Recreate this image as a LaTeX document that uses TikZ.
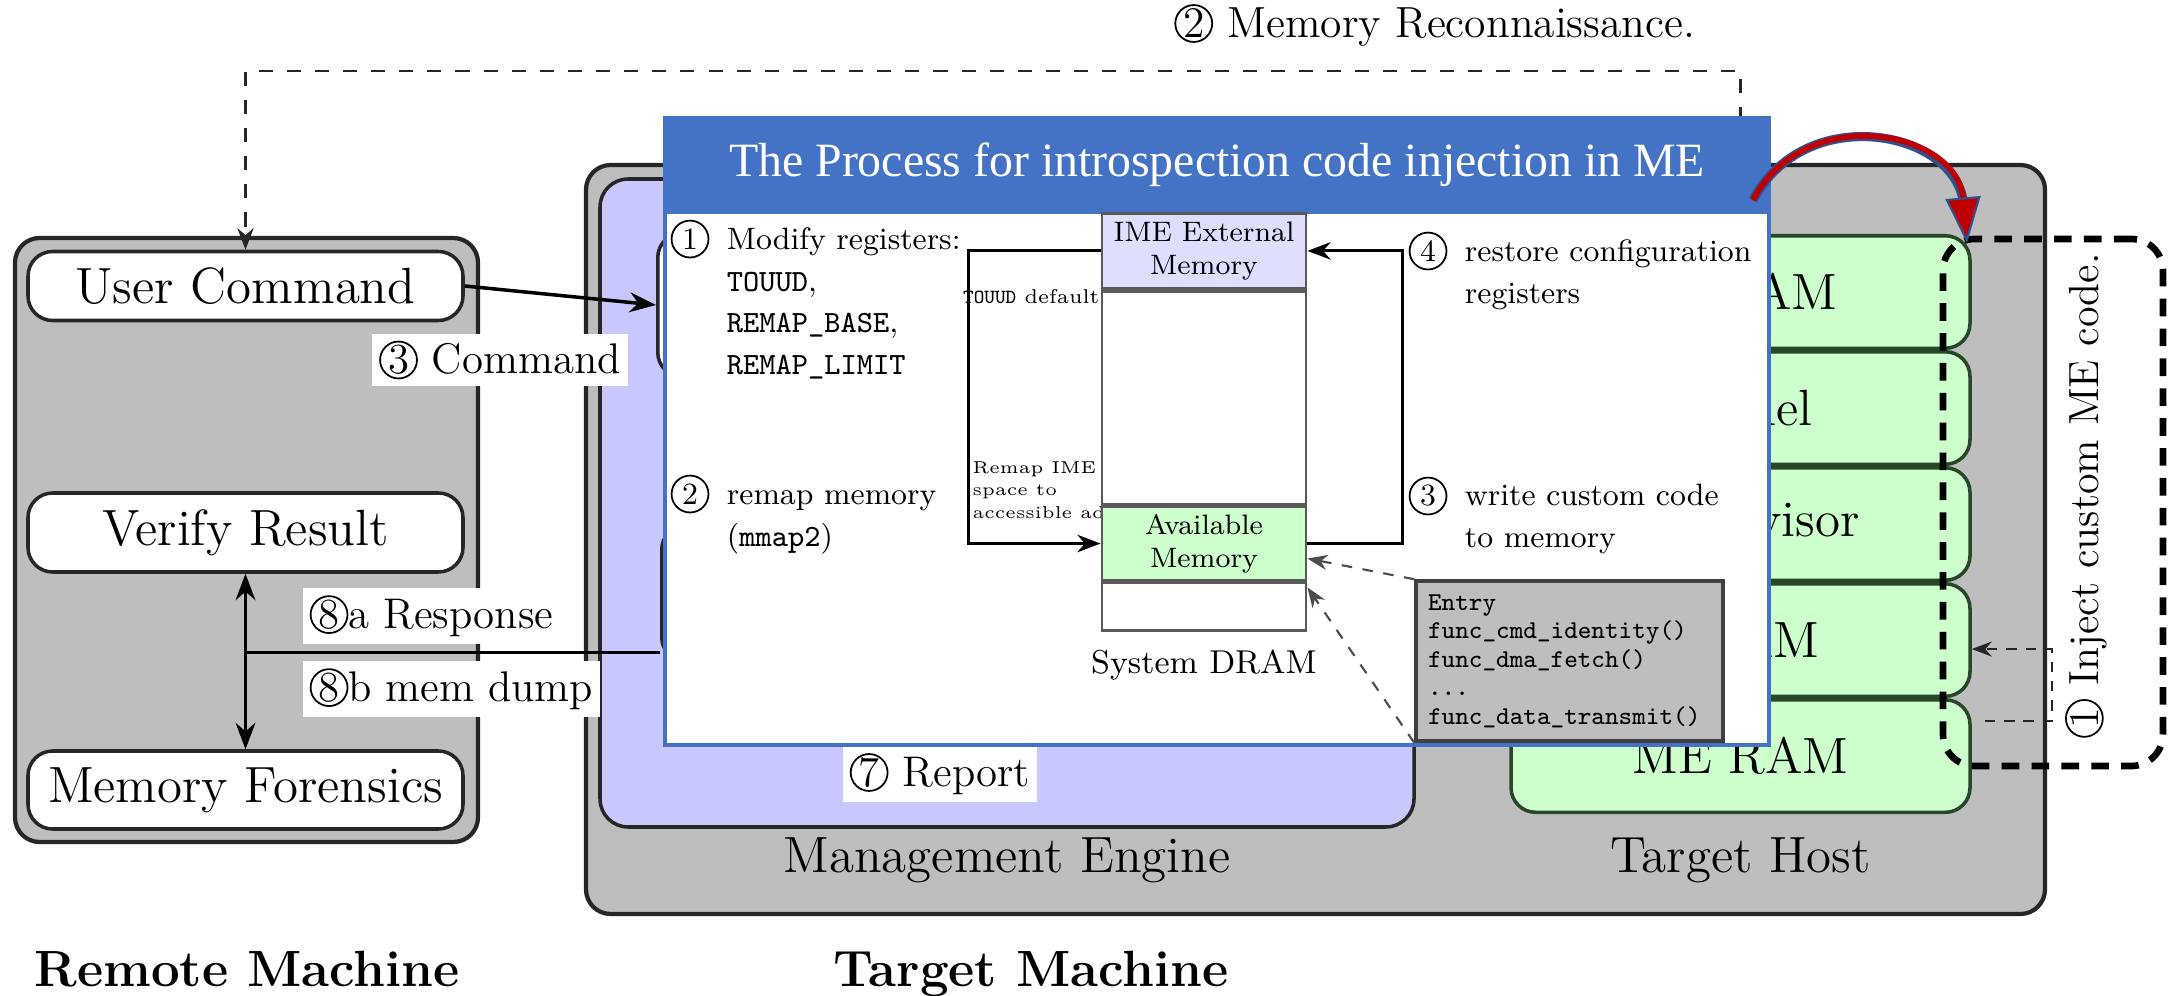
\documentclass[tikz,border=0pt]{standalone}
\usepackage{graphicx}
\usepackage{fontspec}
\newfontfamily\titlefont{Liberation Serif}
\usepackage{xcolor}
\usepackage{tikz}
\usetikzlibrary{
    positioning,
    arrows.meta,
    calc
}
\definecolor{slidebar}{HTML}{4472C4}
\definecolor{arcred}{HTML}{C00000}
\definecolor{arcblue}{HTML}{2F528F}
\definecolor{hostgreen}{RGB}{204,255,204}
\definecolor{hostedge}{RGB}{40,70,40}
\definecolor{meviolet}{RGB}{200,200,255}
\definecolor{imeviolet}{RGB}{222,222,255}
\definecolor{boxgray}{RGB}{190,190,190}

\newcommand{\cnum}[1]{\tikz[baseline=(cn.base)]\node[circle, draw=black, fill=none, text=black,
    line width=0.5pt, inner sep=0pt, minimum size=10.5pt, anchor=center] (cn) {#1};}

\tikzset{
    machine/.style={
        draw=black!85, line width=1.2pt, fill=boxgray, rounded corners=7pt
    },
    engine/.style={
        draw=black!85, line width=1pt, fill=meviolet, rounded corners=8pt
    },
    cmdbox/.style={
        draw=black!85, line width=1pt, fill=white, rounded corners=7pt,
        minimum width=4.35cm, font=\fontsize{14.5}{17}\selectfont
    },
    hostmem/.style={
        draw=hostedge, line width=1pt, fill=hostgreen, rounded corners=7pt,
        minimum width=4.59cm, minimum height=1.125cm, font=\fontsize{14.5}{17}\selectfont
    },
    boxtitle/.style={
        font=\fontsize{14.5}{17}\selectfont
    },
    machinetitle/.style={
        font=\fontsize{14.5}{17}\selectfont\bfseries
    },
    steplabel/.style={
        fill=white, inner sep=2pt, font=\fontsize{12.2}{14}\selectfont
    },
    arrow/.style={
        -Stealth, line width=1pt, draw=black
    },
    thinarrow/.style={
        -Stealth, line width=0.8pt, draw=black
    },
    recon/.style={
        -Stealth, draw=black!85, line width=0.7pt, dash pattern=on 4pt off 4pt
    },
    injectarrow/.style={
        -Stealth, draw=black!85, line width=0.6pt, dash pattern=on 3pt off 2.5pt
    },
    injectbox/.style={
        draw=black, line width=1.9pt, dash pattern=on 5pt off 3.5pt, rounded corners=9pt
    },
    slide/.style={
        draw=slidebar, line width=1.1pt, fill=white
    },
    slidetitle/.style={
        draw=slidebar, line width=1.1pt, fill=slidebar, text=white,
        font=\titlefont\fontsize{13.6}{16}\selectfont
    },
    dramcell/.style={
        draw=black!65, line width=0.8pt, fill=white, minimum width=2.04cm,
        inner sep=1pt, align=center, font=\fontsize{8}{9.5}\selectfont
    },
    steptext/.style={
        anchor=north west, inner sep=0pt, font=\fontsize{8.8}{11.9}\selectfont
    },
    codebox/.style={
        draw=black!75, line width=1pt, fill=boxgray, align=left,
        inner xsep=0.12cm, font=\fontsize{7.3}{8.1}\ttfamily
    },
    codelink/.style={
        -Stealth, dashed, draw=black!70, line width=0.6pt
    }
}

\begin{document}
\begin{tikzpicture}
    \useasboundingbox (0,0) rectangle (21.7,9.95);

    % remote machine
    \node[machine, minimum width=4.63cm, minimum height=6.04cm] (remote) at (2.465,4.55) {};
    \node[cmdbox, minimum height=0.69cm] (usercmd) at (2.455,7.09) {User Command};
    \node[cmdbox, minimum height=0.79cm] (verify) at (2.455,4.625) {Verify Result};
    \node[cmdbox, minimum height=0.78cm] (forensics) at (2.455,2.05) {Memory Forensics};
    \node[machinetitle, anchor=base] (remotename) at (2.47,0.09) {Remote Machine};

    % target machine
    \node[machine, minimum width=14.59cm, minimum height=7.49cm] (target) at (13.155,4.555) {};
    \node[engine, minimum width=8.14cm, minimum height=6.48cm] (engine) at (10.07,4.92) {};
    \node[cmdbox, minimum width=3cm, minimum height=1.44cm, anchor=west] (mecmd) at (6.56,6.90) {};
    \node[cmdbox, minimum width=3cm, minimum height=1.37cm, anchor=west] (meresp) at (6.60,4.015) {};
    \node[hostmem, anchor=north] (smram) at (17.405,7.61) {SMRAM};
    \node[hostmem, below=0pt of smram] (kernel) {Kernel};
    \node[hostmem, below=0pt of kernel] (hypervisor) {Hypervisor};
    \node[hostmem, below=0pt of hypervisor] (dram) {DRAM};
    \node[hostmem, below=0pt of dram] (meram) {ME RAM};
    \node[boxtitle, anchor=base] (enginename) at (10.07,1.23) {Management Engine};
    \node[boxtitle, anchor=base] (hostname) at (17.405,1.23) {Target Host};
    \node[machinetitle, anchor=base] (targetname) at (10.31,0.09) {Target Machine};

    % flows between the machines
    \coordinate (reconbend) at (17.405,9.24);
    \draw[recon] (smram.north) -- (reconbend) -| (usercmd.north);
    \node[anchor=base west, font=\fontsize{12.4}{14}\selectfont] (reconlabel) at (11.62,9.57)
        {\cnum{2} Memory Reconnaissance.};

    \draw[arrow] (usercmd.east) -- (mecmd.west);
    \draw[arrow, Stealth-Stealth] (verify.south) -- (forensics.north);
    \coordinate (dumpjoin) at ($(verify.south)!0.45!(forensics.north)$);
    \draw[line width=1pt] (dumpjoin) -- (dumpjoin -| meresp.west);

    \node[steplabel] (cmdlabel) at (5.00,6.35) {\cnum{3} Command};
    \node[steplabel, anchor=west] (resplabel) at (3.02,3.79) {\cnum{8}a Response};
    \node[steplabel, anchor=west] (dumplabel) at (3.02,3.06) {\cnum{8}b mem dump};
    \node[steplabel] (reportlabel) at (9.40,2.21) {\cnum{7} Report};

    % injection
    \node[injectbox, minimum width=2.2cm, minimum height=5.27cm] (inject) at (20.53,4.925) {};
    \node[font=\fontsize{12}{14}\selectfont] (injectlabel) at (20.86,4.995)
        {\rotatebox{90}{\cnum{1} Inject custom ME code.}};
    \coordinate (injfoot) at ($(meram.east)+(0.13,0.35)$);
    \draw[injectarrow] (injfoot) -- ++(0.67,0) |- ([yshift=-0.09cm]dram.east);

    % inset slide
    \node[slide, minimum width=11.04cm, minimum height=6.27cm] (slide) at (12.17,5.635) {};
    \node[slidetitle, minimum width=11.04cm, minimum height=0.94cm, anchor=north] (slidehead) at (slide.north)
        {The Process for introspection code injection in ME};

    \node[steptext] (stepmod) at (6.70,7.76) {\begin{tabular}{@{}l@{\hspace{5pt}}l@{}}
        \cnum{1} & Modify registers:\\
                 & \texttt{TOUUD},\\
                 & \texttt{REMAP\_BASE},\\
                 & \texttt{REMAP\_LIMIT}
        \end{tabular}};
    \node[steptext] (stepremap) at (6.70,5.21) {\begin{tabular}{@{}l@{\hspace{5pt}}l@{}}
        \cnum{2} & remap memory\\
                 & (\texttt{mmap2})
        \end{tabular}};
    \node[steptext] (steprestore) at (14.08,7.64) {\begin{tabular}{@{}l@{\hspace{5pt}}l@{}}
        \cnum{4} & restore configuration\\
                 & registers
        \end{tabular}};
    \node[steptext] (stepwrite) at (14.08,5.19) {\begin{tabular}{@{}l@{\hspace{5pt}}l@{}}
        \cnum{3} & write custom code\\
                 & to memory
        \end{tabular}};

    \node[anchor=east, inner sep=0pt, font=\fontsize{5.7}{6.5}\selectfont] (touudnote) at (11.00,6.98)
        {\texttt{TOUUD} default};
    \node[anchor=west, align=left, inner sep=0pt, font=\fontsize{4.9}{6.4}\selectfont] (remapnote) at (9.72,5.05)
        {Remap IME\\space to\\accessible address};

    \node[dramcell, fill=imeviolet, minimum height=0.75cm, anchor=north] (imeext) at (12.04,7.83) {IME External\\Memory};
    \node[dramcell, minimum height=2.13cm, below=0pt of imeext] (dramfree) {};
    \node[dramcell, fill=hostgreen, minimum height=0.73cm, below=0pt of dramfree] (avail) {Available\\Memory};
    \node[dramcell, minimum height=0.48cm, below=0pt of avail] (dramlow) {};
    \node[font=\fontsize{9.4}{11}\selectfont, below=0.05cm of dramlow] (dramname) {System DRAM};

    \draw[thinarrow] (imeext.west) -- ++(-1.32,0) |- (avail.west);
    \draw[thinarrow] (avail.east) -- ++(0.95,0) |- (imeext.east);

    \node[codebox, minimum width=3.07cm, minimum height=1.60cm, text width=2.83cm] (code) at (15.695,3.34)
        {Entry\\func\_cmd\_identity()\\func\_dma\_fetch()\\...\\func\_data\_transmit()};
    \draw[codelink] (code.north west) -- ([yshift=-0.15cm]avail.east);
    \draw[codelink] (code.south west) -- ([yshift=-0.06cm]avail.south east);

    % curved pointer
    \coordinate (arcstart) at (17.53,7.95);
    \coordinate (arctip) at (19.67,7.52);
    \draw[line width=2.6pt, draw=arcblue, shorten >=11pt] (arcstart) to[out=62, in=95, looseness=1.32] (arctip);
    \draw[line width=1.6pt, draw=arcred,
        -{Triangle[length=13pt, width=10pt, color=arcblue, fill=arcred, line width=0.6pt]}]
        (arcstart) to[out=62, in=95, looseness=1.32] (arctip);
\end{tikzpicture}
\end{document}
